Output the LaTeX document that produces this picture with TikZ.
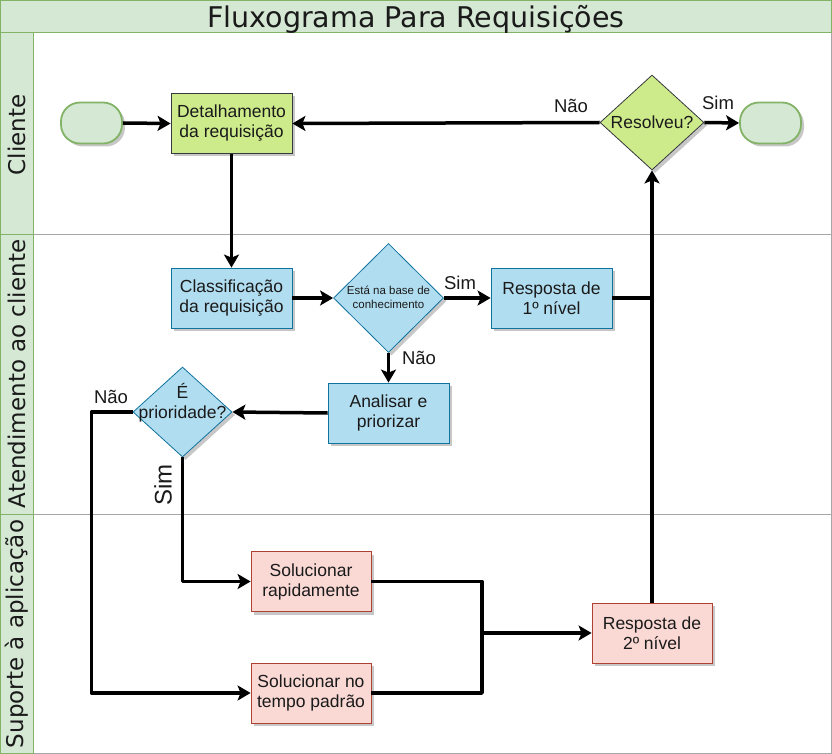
\documentclass[tikz,border=0pt]{standalone}
\usepackage{fontspec}
\setmainfont{Liberation Sans}
\newfontfamily\dejavu{DejaVu Sans}
\usetikzlibrary{arrows.meta,shapes.geometric,shadows,calc}
\definecolor{lanegreen}{HTML}{D5E8D4}
\definecolor{laneborder}{HTML}{82B366}
\definecolor{lightgreen}{HTML}{CDEB8B}
\definecolor{darkgray}{HTML}{36393D}
\definecolor{bluefill}{HTML}{B1DDF0}
\definecolor{blueborder}{HTML}{10739E}
\definecolor{pinkfill}{HTML}{FAD9D5}
\definecolor{pinkborder}{HTML}{AE4132}
\definecolor{lanegray}{HTML}{A6A6A6}
\definecolor{txt}{HTML}{1A1A1A}
\begin{document}
\begin{tikzpicture}[x=1pt,y=-1pt,
  shade/.style={drop shadow={shadow xshift=3pt,shadow yshift=-3pt,fill=black!22,opacity=1}},
  box/.style={rectangle, draw, line width=0.8pt, minimum width=121pt, minimum height=60pt, inner sep=0pt,
    align=center, font=\fontsize{17.5}{20}\selectfont, text=txt, shade},
  greenbox/.style={box, fill=lightgreen, draw=darkgray},
  bluebox/.style={box, fill=bluefill, draw=blueborder},
  pinkbox/.style={box, fill=pinkfill, draw=pinkborder},
  dec/.style={diamond, draw, line width=0.8pt, inner sep=0pt, shade},
  decgreen/.style={dec, fill=lightgreen, draw=darkgray},
  decblue/.style={dec, fill=bluefill, draw=blueborder},
  term/.style={rectangle, rounded corners=19pt, draw=laneborder, fill=lanegreen, line width=1.8pt,
    minimum width=61pt, minimum height=41pt, inner sep=0pt, shade},
  dtext/.style={align=center, inner sep=0pt, text=txt, font=\fontsize{17.5}{20}\selectfont},
  small/.style={align=center, inner sep=0pt, text=txt, font=\fontsize{11.5}{13.5}\selectfont},
  lbl/.style={inner sep=0pt, text=txt, font=\fontsize{18.5}{20}\selectfont},
  lanetext/.style={inner sep=0pt, text=txt, font=\dejavu\fontsize{23}{25}\selectfont, rotate=90},
  conn/.style={line width=3.5pt, line join=round, -{Stealth[length=13pt,width=15pt,inset=3pt]}},
  plain/.style={line width=3.5pt, line join=round}
]
\useasboundingbox (0,0) rectangle (832,754);
\fill[white] (0,0) rectangle (832,754);

% lanes
\draw[lanegray, line width=1pt] (33,33) rectangle (831.3,234);
\draw[lanegray, line width=1pt] (33,234) rectangle (831.3,514);
\draw[lanegray, line width=1pt] (33,514) rectangle (831.3,753.3);
\draw[laneborder, fill=lanegreen, line width=1pt] (0.7,0.7) rectangle (831.3,33);
\draw[laneborder, fill=lanegreen, line width=1pt] (0.7,33) rectangle (33,234);
\draw[laneborder, fill=lanegreen, line width=1pt] (0.7,234) rectangle (33,514);
\draw[laneborder, fill=lanegreen, line width=1pt] (0.7,514) rectangle (33,753.3);

\node[inner sep=0pt, text=txt, font=\dejavu\fontsize{28.5}{30}\selectfont] (title) at (416,19) {Fluxograma Para Requisições};
\node[lanetext] (lane1) at (17,135) {Cliente};
\node[lanetext] (lane2) at (17,374) {Atendimento ao cliente};
\node[lanetext] (lane3) at (17,634) {Suporte à aplicação};

% nodes
\node[term] (start) at (91.5,123) {};
\node[term] (end) at (770.5,123) {};
\node[greenbox] (det) at (231.5,123.5) {Detalhamento\\da requisição};
\node[decgreen, minimum width=104pt, minimum height=95pt] (res) at (652,122.5) {};
\node[dtext] (restxt) at (res) {Resolveu?};

\node[bluebox] (cls) at (231.5,298) {Classificação\\da requisição};
\node[decblue, minimum width=110pt, minimum height=109pt] (base) at (388.5,298) {};
\node[small] (basetxt) at (388.5,297.5) {Está na base de\\conhecimento};
\node[bluebox] (r1) at (551.5,298) {Resposta de\\1º nível};
\node[bluebox] (ana) at (388.5,413) {Analisar e\\priorizar};
\node[decblue, minimum width=99pt, minimum height=90pt] (pri) at (182.5,412) {};
\node[dtext] (pritxt) at (182.5,403) {É\\prioridade?};

\node[pinkbox, minimum width=120pt] (sr) at (311,581.5) {Solucionar\\rapidamente};
\node[pinkbox, minimum width=120pt] (sp) at (311,693) {Solucionar no\\tempo padrão};
\node[pinkbox, minimum width=120pt] (r2) at (652,633) {Resposta de\\2º nível};

\coordinate (j) at (482,633);

% connectors
\draw[conn] (start.east) -- (det.west);
\draw[conn] (det.south) -- (cls.north);
\draw[conn] (cls.east) -- (base.west);
\draw[conn] (base.east) -- (r1.west);
\draw[conn] (base.south) -- (ana.north);
\draw[conn] (ana.west) -- (pri.east);
\draw[conn] (pri.west) -- ++(-41,0) |- (sp.west);
\draw[conn] (pri.south) |- (sr.west);
\draw[conn] (sr.east) -| (j) -- (r2.west);
\draw[plain] (sp.east) -| (j);
\draw[conn] (r2.north) -- (res.south);
\draw[plain] (r1.east) -- (r1.east -| r2.north);
\draw[conn] (res.west) -- (det.east);
\draw[conn] (res.east) -- (end.west);

% labels
\node[lbl] (l1) at (571,106) {Não};
\node[lbl] (l2) at (718,103) {Sim};
\node[lbl] (l3) at (460,283) {Sim};
\node[lbl] (l4) at (419,358) {Não};
\node[lbl] (l5) at (111,397) {Não};
\node[lbl, rotate=90, font=\fontsize{24}{26}\selectfont] (l6) at (163,485) {Sim};
\end{tikzpicture}
\end{document}
